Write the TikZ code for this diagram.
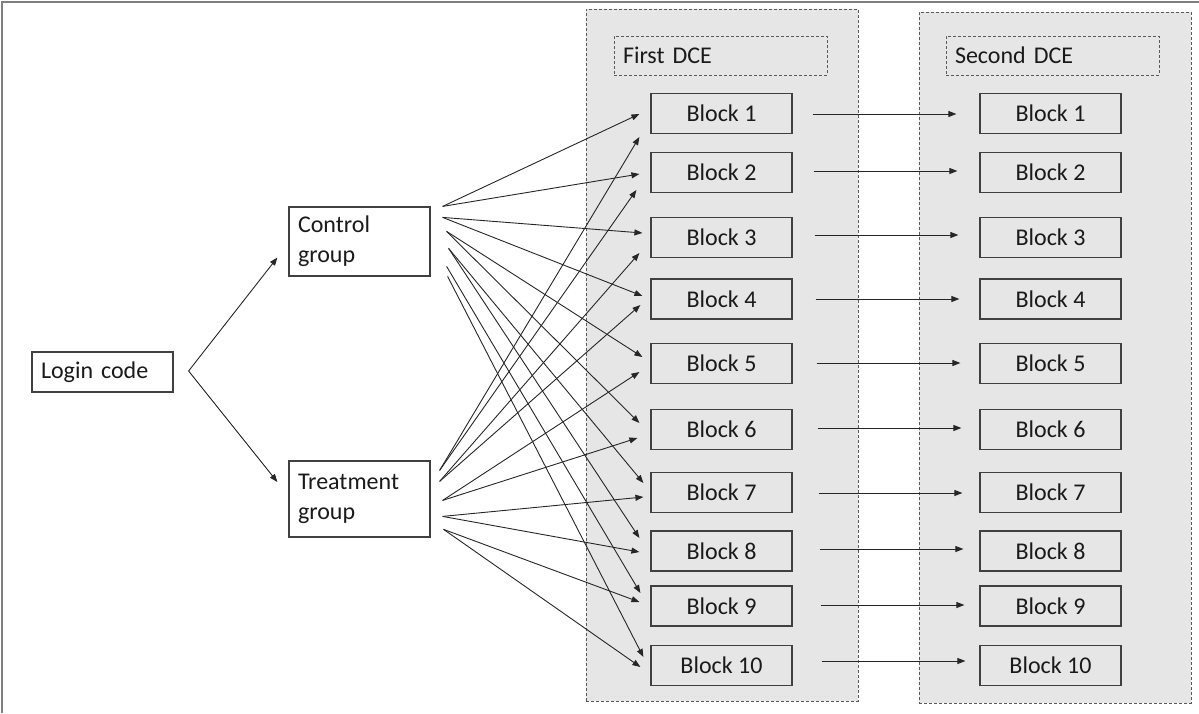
\documentclass[tikz,border=0pt]{standalone}
\usepackage{fontspec}
\setmainfont{Carlito}
\usetikzlibrary{arrows.meta}
\definecolor{panelgray}{HTML}{E7E6E6}
\definecolor{edge}{HTML}{404040}
\definecolor{dashgray}{HTML}{5A5A5A}
\definecolor{framegray}{HTML}{7F7F7F}
\definecolor{ink}{HTML}{1A1A1A}

\begin{document}
\begin{tikzpicture}[x=1pt,y=-1pt,
  font=\fontsize{24}{30}\selectfont, text=ink,
  block/.style={draw=edge, line width=1.2pt, minimum width=141pt, minimum height=40pt, inner sep=0pt},
  groupbox/.style={draw=edge, line width=1.2pt, fill=white, minimum width=141pt, text width=123pt,
    inner xsep=9pt, inner ysep=0pt, align=left},
  panel/.style={draw=dashgray, fill=panelgray, line width=0.9pt, dash pattern=on 3pt off 2pt, inner sep=0pt},
  titlebox/.style={draw=dashgray, line width=0.9pt, dash pattern=on 3pt off 2pt, minimum width=213pt,
    minimum height=39pt, text width=195pt, inner xsep=9pt, inner ysep=0pt, align=left},
  arr/.style={-{Triangle[length=8pt,width=6pt]}, line width=0.9pt, draw=black!85}
]
\useasboundingbox (0,0) rectangle (1199,713);

% outer frame
\draw[framegray, line width=2pt] (2,713) -- (2,2) -- (1199,2);

% the two DCE panels
\node[panel, minimum width=272pt, minimum height=692pt] (p1) at (722,355) {};
\node[panel, minimum width=272pt, minimum height=691pt] (p2) at (1055,357.5) {};
\node[titlebox] (t1) at (720.5,55.5) {First DCE};
\node[titlebox] (t2) at (1052.5,55.5) {Second DCE};

% left-hand boxes
\node[groupbox, minimum height=40pt] (lc) at (102.5,372) {Login code};
\node[groupbox, minimum height=69pt] (cg) at (359.5,241.5) {Control\\group};
\node[groupbox, minimum height=76pt] (tg) at (359.5,499) {Treatment\\group};

% blocks of both DCEs
\foreach \i/\y in {1/113.5,2/172.5,3/237.5,4/299,5/363.5,6/429.5,7/492.5,8/551,9/606,10/665.5}{
  \node[block] (a\i) at (721.5,\y) {Block \i};
  \node[block] (b\i) at (1050.5,\y) {Block \i};
}

% split of the login code
\coordinate (lv) at ([shift={(15,-1)}]lc.east);
\draw[arr] (lv) -- ([shift={(-11,16)}]cg.west);
\draw[arr] (lv) -- ([shift={(-11,-17)}]tg.west);

% fan-out starting points
\coordinate (cA) at ([shift={(12,0)}]cg.north east);
\coordinate (cB) at ([shift={(12,11)}]cg.north east);
\coordinate (cC) at ([shift={(16,25)}]cg.north east);
\coordinate (cD) at ([shift={(18,42)}]cg.north east);
\coordinate (cE) at ([shift={(16,60)}]cg.north east);
\coordinate (cF) at ([shift={(17,70)}]cg.north east);
\coordinate (tA) at ([shift={(9,10)}]tg.north east);
\coordinate (tB) at ([shift={(9,21)}]tg.north east);
\coordinate (tC) at ([shift={(12,40)}]tg.north east);
\coordinate (tD) at ([shift={(12,56)}]tg.north east);
\coordinate (tE) at ([shift={(13,69)}]tg.north east);

% control group to every block of the first DCE
\foreach \i/\s/\dx/\dy in {1/cA/-11/0.5,2/cA/-11/1.5,3/cB/-8/-4.5,4/cB/-8/-3,5/cC/-8/-6.5,
    6/cC/-11/-6.5,7/cD/-7/-9.5,8/cD/-11/-13,9/cE/-10/-13,10/cF/-7/-8.5}{
  \draw[arr] (\s) -- ([shift={(\dx,\dy)}]a\i.west);
}

% treatment group to every block of the first DCE
\foreach \i/\s/\dx/\dy in {1/tA/-11/23.5,2/tA/-14/17.5,3/tB/-11/15.5,4/tB/-10/6,5/tC/-11/8.5,
    6/tC/-13/8.5,7/tD/-7/4.5,8/tD/-11/1,9/tE/-11/-4,10/tE/-10/1.5}{
  \draw[arr] (\s) -- ([shift={(\dx,\dy)}]a\i.west);
}

% first DCE block to the same block of the second DCE
\foreach \i/\hy in {1/0.5,2/-1.5,3/-2.5,4/0,5/-0.5,6/-1.5,7/0.5,8/-2,9/-1,10/-4.5}{
  \draw[arr] ([shift={({19+\i},\hy)}]a\i.east) -- ([shift={({\i-24},\hy)}]b\i.west);
}
\end{tikzpicture}
\end{document}
